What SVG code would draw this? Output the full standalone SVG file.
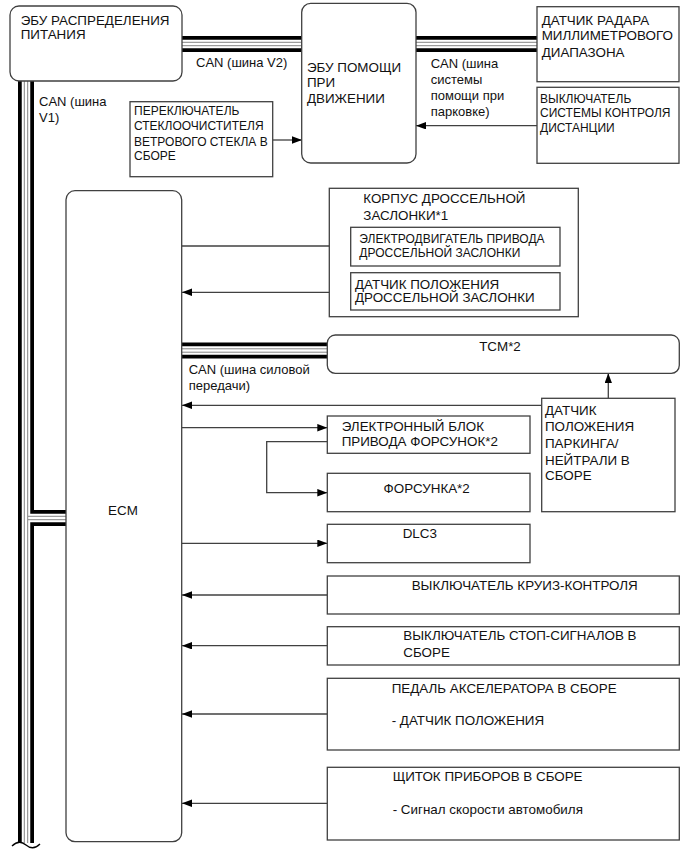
<svg xmlns="http://www.w3.org/2000/svg" width="690" height="854" viewBox="0 0 690 854">
<style>
.box{fill:#fff;stroke:#404040;stroke-width:1.3}
.t{font-family:"Liberation Sans",Arial,sans-serif;font-size:13.4px;fill:#111}
.s{font-size:12px}
.n{font-size:13px}
.c{text-anchor:middle}
.w{fill:none;stroke:#404040;stroke-width:1.3}
.bo{fill:none;stroke:#000;stroke-width:16}
.bi{fill:none;stroke:#fff;stroke-width:8.5}
.bg{fill:none;stroke:#777;stroke-width:0.9}
</style>
<defs>
<marker id="ar" markerUnits="userSpaceOnUse" markerWidth="11" markerHeight="8" refX="10" refY="3.75" orient="auto">
<path d="M0,0 L10,3.75 L0,7.5 z" fill="#000"/>
</marker>
</defs>
<rect width="690" height="854" fill="#fff"/>

<g id="buses">
<path class="bo" d="M26,81 V843 M26,518 H66 M182,44 H302 M416,44 H537 M182,350.5 H327.3"/>
<path class="bi" d="M26,81 V843 M26,518 H66 M182,44 H302 M416,44 H537 M182,350.5 H327.3"/>
<path class="bg" d="M24.3,81 V843 M27.7,81 V843 M28,516.3 H66 M28,519.7 H66 M182,42.3 H302 M182,45.7 H302 M416,42.3 H537 M416,45.7 H537 M182,348.8 H327.3 M182,352.2 H327.3"/>
<rect x="10" y="844" width="34" height="10" fill="#fff"/>
<path d="M12,846 q7,-7 14,-1 q7,6 14,-1" fill="none" stroke="#000" stroke-width="1.3"/>
</g>

<g id="connectors">
<path class="w" marker-end="url(#ar)" d="M272.7,140 H302"/>
<path class="w" marker-end="url(#ar)" d="M537,125.7 H416"/>
<path class="w" marker-end="url(#ar)" d="M182,246 H350.7"/>
<path class="w" marker-end="url(#ar)" d="M350.7,292.3 H182"/>
<path class="w" marker-end="url(#ar)" d="M608.3,398.3 V373.3"/>
<path class="w" marker-end="url(#ar)" d="M541.7,405.3 H182"/>
<path class="w" marker-end="url(#ar)" d="M182,427.7 H327.3"/>
<path class="w" marker-end="url(#ar)" d="M327.3,441.7 H266.7 V492.7 H327.3"/>
<path class="w" marker-end="url(#ar)" d="M182,543.3 H327.3"/>
<path class="w" marker-end="url(#ar)" d="M327.3,595 H182"/>
<path class="w" marker-end="url(#ar)" d="M327.3,645.7 H182"/>
<path class="w" marker-end="url(#ar)" d="M327.3,714 H182"/>
<path class="w" marker-end="url(#ar)" d="M327.3,803.3 H182"/>
</g>

<g id="labels">
<text class="t n" x="196" y="66.5">CAN (шина V2)</text>
<text class="t n" x="39" y="106">CAN (шина</text>
<text class="t n" x="39" y="122">V1)</text>
<text class="t n" x="430.7" y="67.5">CAN (шина</text>
<text class="t n" x="430.7" y="84">системы</text>
<text class="t n" x="430.7" y="100">помощи при</text>
<text class="t n" x="430.7" y="116">парковке)</text>
<text class="t n" x="188.7" y="373.5">CAN (шина силовой</text>
<text class="t n" x="188.7" y="389.5">передачи)</text>
</g>

<g id="ecu-power">
<rect class="box" x="10" y="6" width="172" height="75" rx="9"/>
<text class="t" x="20.7" y="24.8">ЭБУ РАСПРЕДЕЛЕНИЯ</text>
<text class="t" x="20.7" y="39">ПИТАНИЯ</text>
</g>

<g id="ecu-assist">
<rect class="box" x="301.7" y="3.3" width="114.3" height="159.7" rx="9"/>
<text class="t" x="307" y="71.5">ЭБУ ПОМОЩИ</text>
<text class="t" x="307" y="87">ПРИ</text>
<text class="t" x="307" y="102.5">ДВИЖЕНИИ</text>
</g>

<g id="radar">
<rect class="box" x="537" y="6.7" width="142" height="75"/>
<text class="t" x="541.7" y="24.8">ДАТЧИК РАДАРА</text>
<text class="t" x="541.7" y="40">МИЛЛИМЕТРОВОГО</text>
<text class="t" x="541.7" y="56.5">ДИАПАЗОНА</text>
</g>

<g id="distance-switch">
<rect class="box" x="537" y="87.3" width="142" height="76"/>
<text class="t s" x="540" y="102.5">ВЫКЛЮЧАТЕЛЬ</text>
<text class="t s" x="540" y="116.5">СИСТЕМЫ КОНТРОЛЯ</text>
<text class="t s" x="540" y="131.5">ДИСТАНЦИИ</text>
</g>

<g id="wiper-switch">
<rect class="box" x="130" y="101.7" width="142.7" height="75"/>
<text class="t s" x="134" y="114.5">ПЕРЕКЛЮЧАТЕЛЬ</text>
<text class="t s" x="134" y="130">СТЕКЛООЧИСТИТЕЛЯ</text>
<text class="t s" x="134" y="146">ВЕТРОВОГО СТЕКЛА В</text>
<text class="t s" x="134" y="159.5">СБОРЕ</text>
</g>

<g id="ecm">
<rect class="box" x="66" y="190.7" width="115.7" height="651" rx="9"/>
<text class="t c" x="123" y="514.5">ECM</text>
</g>

<g id="throttle-body">
<rect class="box" x="329.3" y="188.3" width="249" height="128.4"/>
<text class="t" x="363.3" y="202.5">КОРПУС ДРОССЕЛЬНОЙ</text>
<text class="t" x="363.3" y="219.5">ЗАСЛОНКИ*1</text>
</g>

<g id="throttle-motor">
<rect class="box" x="350.7" y="227.3" width="209.3" height="38.7"/>
<text class="t s" x="359.3" y="242.5">ЭЛЕКТРОДВИГАТЕЛЬ ПРИВОДА</text>
<text class="t s" x="359.3" y="257">ДРОССЕЛЬНОЙ ЗАСЛОНКИ</text>
</g>

<g id="throttle-sensor">
<rect class="box" x="350.7" y="272.7" width="209.3" height="37.3"/>
<text class="t" x="355" y="289">ДАТЧИК ПОЛОЖЕНИЯ</text>
<text class="t" x="355" y="302.3">ДРОССЕЛЬНОЙ ЗАСЛОНКИ</text>
</g>

<g id="tcm">
<rect class="box" x="327.3" y="335" width="352" height="38.3" rx="8"/>
<text class="t c" x="500" y="351.3">TCM*2</text>
</g>

<g id="park-neutral">
<rect class="box" x="541.7" y="398.3" width="133.3" height="113.4"/>
<text class="t" x="545" y="414.6">ДАТЧИК</text>
<text class="t" x="545" y="431.3">ПОЛОЖЕНИЯ</text>
<text class="t" x="545" y="447.9">ПАРКИНГА/</text>
<text class="t" x="545" y="464.6">НЕЙТРАЛИ В</text>
<text class="t" x="545" y="480.3">СБОРЕ</text>
</g>

<g id="injector-driver">
<rect class="box" x="327.3" y="416" width="202.7" height="37.3"/>
<text class="t" x="341.7" y="431.3">ЭЛЕКТРОННЫЙ БЛОК</text>
<text class="t" x="341.7" y="446.3">ПРИВОДА ФОРСУНОК*2</text>
</g>

<g id="injector">
<rect class="box" x="327.3" y="473.3" width="202.7" height="38.4"/>
<text class="t c" x="426.7" y="492.9">ФОРСУНКА*2</text>
</g>

<g id="dlc3">
<rect class="box" x="327.3" y="524.3" width="202.7" height="38.4"/>
<text class="t" x="402.7" y="537.9">DLC3</text>
</g>

<g id="cruise-switch">
<rect class="box" x="327.3" y="576" width="352" height="38"/>
<text class="t" x="411.7" y="589.6">ВЫКЛЮЧАТЕЛЬ КРУИЗ-КОНТРОЛЯ</text>
</g>

<g id="stop-switch">
<rect class="box" x="327.3" y="626.7" width="352" height="38.3"/>
<text class="t" x="403.3" y="640.3">ВЫКЛЮЧАТЕЛЬ СТОП-СИГНАЛОВ В</text>
<text class="t" x="403.3" y="656.9">СБОРЕ</text>
</g>

<g id="accel-pedal">
<rect class="box" x="327.3" y="678.3" width="352" height="71.7"/>
<text class="t" x="391.7" y="692.9">ПЕДАЛЬ АКСЕЛЕРАТОРА В СБОРЕ</text>
<text class="t" x="391.7" y="725.3">- ДАТЧИК ПОЛОЖЕНИЯ</text>
</g>

<g id="combination-meter">
<rect class="box" x="327.3" y="767.3" width="352" height="72.7"/>
<text class="t" x="392.7" y="781.3">ЩИТОК ПРИБОРОВ В СБОРЕ</text>
<text class="t" x="392.7" y="814.3">- Сигнал скорости автомобиля</text>
</g>
</svg>
